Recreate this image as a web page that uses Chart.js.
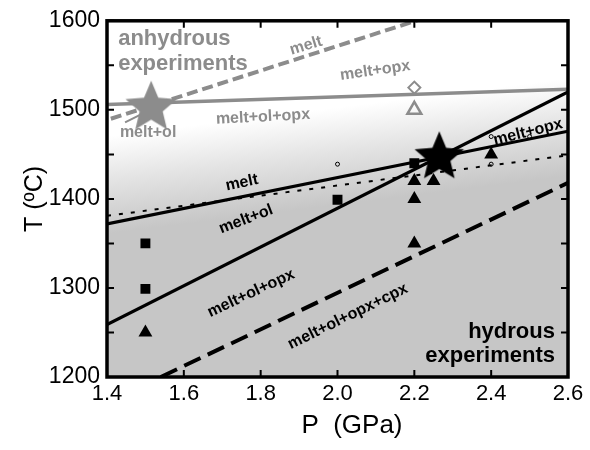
<!DOCTYPE html>
<html>
<head>
<meta charset="utf-8">
<script src="https://cdn.jsdelivr.net/npm/chart.js@4.4.1/dist/chart.umd.min.js"></script>
<style>
  html, body { margin: 0; background: #fff; }
  #wrap { width: 590px; height: 450px; }
</style>
</head>
<body>
<div id="wrap"><canvas id="phase"></canvas></div>
<script>
// P (GPa) and T (°C)
const hydMeltP = [1.4, 2.6],   hydMeltT = [1372, 1476];   // melt / melt+ol
const hydOlP   = [1.4, 2.6],   hydOlT   = [1259, 1520];   // melt+ol / melt+ol+opx
const hydCpxP  = [1.54, 2.6],  hydCpxT  = [1200, 1418];   // cpx in (dashed)
const dotP     = [1.4, 2.6],   dotT     = [1381, 1449];   // dotted
const anhOpxP  = [1.4, 2.6],   anhOpxT  = [1506, 1523];
const anhMeltP = [1.41, 2.24], anhMeltT = [1490, 1605];
const anhOlP   = [1.447, 1.494], anhOlT = [1486, 1496];

const squareP = [1.5, 1.5, 2.0, 2.2],  squareT = [1350, 1299, 1399, 1440];
const triP    = [1.5, 2.2, 2.25, 2.2, 2.2, 2.4], triT = [1250, 1420, 1420, 1400, 1350, 1450];
const circP   = [2.0, 2.4, 2.4, 2.5],  circT   = [1439, 1439, 1470, 1470];
const anhDiaP = [2.2], anhDiaT = [1525];
const anhTriP = [2.2], anhTriT = [1500];
const hydStarP = [2.265], hydStarT = [1449];
const anhStarP = [1.515], anhStarT = [1505];

// text: [label, P, T, angle(deg), colour, size, align]
const notes = [
  ['anhydrous',        1.429, 1580,   0, 'gray',  22, 'left'],
  ['experiments',      1.429, 1552,   0, 'gray',  22, 'left'],
  ['melt',             1.918, 1572, -17, 'gray',  16, 'center'],
  ['melt+opx',         2.098, 1544,  -8, 'gray',  16, 'center'],
  ['melt+ol+opx',      1.806, 1492,  -3, 'gray',  16, 'center'],
  ['melt+ol',          1.507, 1475,   0, 'gray',  16, 'center'],
  ['melt',             1.751, 1418, -12, 'black', 16, 'center'],
  ['melt+ol',          1.762, 1377, -21, 'black', 16, 'center'],
  ['melt+ol+opx',      1.775, 1294, -25, 'black', 16, 'center'],
  ['melt+ol+opx+cpx',  2.027, 1268, -26, 'black', 16, 'center'],
  ['melt+opx',         2.496, 1475, -14, 'black', 16, 'center'],
  ['hydrous',          2.566, 1251,   0, 'black', 22, 'right'],
  ['experiments',      2.566, 1224,   0, 'black', 22, 'right'],
];

const GRAY = '#8c8c8c';
const FONT = '"Liberation Sans", Arial, sans-serif';
const pts = (xs, ys) => xs.map((x, i) => ({ x, y: ys[i] }));

function starImg(r, color) {
  const c = document.createElement('canvas');
  c.width = c.height = Math.ceil(2 * r + 2);
  const g = c.getContext('2d');
  g.fillStyle = color;
  g.beginPath();
  for (let i = 0; i < 10; i++) {
    const rad = i % 2 ? r * 0.45 : r;
    const a = -Math.PI / 2 + i * Math.PI / 5;
    const px = c.width / 2 + rad * Math.cos(a), py = c.height / 2 + rad * Math.sin(a) + r * 0.08;
    i ? g.lineTo(px, py) : g.moveTo(px, py);
  }
  g.closePath();
  g.fill();
  return c;
}

const line = (xs, ys, color, width, dash) => ({
  type: 'line', data: pts(xs, ys), borderColor: color, borderWidth: width,
  borderDash: dash || [], pointRadius: 0, fill: false,
});
const marks = (xs, ys, style, r, fill, stroke, bw) => ({
  type: 'scatter', data: pts(xs, ys), pointStyle: style, pointRadius: r,
  backgroundColor: fill, borderColor: stroke, borderWidth: bw,
});

const framePlugin = {
  id: 'frame',
  beforeDatasetsDraw(chart) {
    const { ctx, chartArea: a } = chart;
    // shading: white above, grey below, along a slightly tilted boundary
    const cx = a.left + a.width * 0.5, cy = a.top + a.height * 0.38;
    const g = ctx.createLinearGradient(cx - 6, cy - 48, cx + 6, cy + 48);
    g.addColorStop(0, '#ffffff');
    g.addColorStop(0.45, '#e4e4e4');
    g.addColorStop(1, '#c6c6c6');
    ctx.save();
    ctx.fillStyle = g;
    ctx.fillRect(a.left, a.top, a.width, a.height);
    ctx.restore();
  },
  afterDatasetsDraw(chart) {
    const { ctx, chartArea: a, scales: { x, y } } = chart;
    ctx.save();
    notes.forEach(([t, p, T, ang, col, size, align]) => {
      ctx.save();
      ctx.translate(x.getPixelForValue(p), y.getPixelForValue(T));
      ctx.rotate(ang * Math.PI / 180);
      ctx.font = `bold ${size}px ${FONT}`;
      ctx.fillStyle = col === 'gray' ? GRAY : '#000';
      ctx.textAlign = align;
      ctx.textBaseline = 'middle';
      ctx.fillText(t, 0, 0);
      ctx.restore();
    });
    // inward ticks on all four sides
    ctx.strokeStyle = '#000';
    ctx.lineWidth = 2;
    ctx.beginPath();
    x.ticks.forEach(t => {
      const px = x.getPixelForValue(t.value);
      ctx.moveTo(px, a.bottom); ctx.lineTo(px, a.bottom - 7);
      ctx.moveTo(px, a.top); ctx.lineTo(px, a.top + 7);
    });
    y.ticks.forEach(t => {
      const py = y.getPixelForValue(t.value);
      ctx.moveTo(a.left, py); ctx.lineTo(a.left + 7, py);
      ctx.moveTo(a.right, py); ctx.lineTo(a.right - 7, py);
    });
    ctx.stroke();
    ctx.lineWidth = 3.5;
    ctx.strokeRect(a.left, a.top, a.width, a.height);
    ctx.restore();
  }
};

const datasets = [
  marks(hydStarP, hydStarT, starImg(26, '#000'), 10, '#000', '#000', 0),
  marks(anhStarP, anhStarT, starImg(27, GRAY), 10, GRAY, GRAY, 0),
  marks(squareP, squareT, 'rect', 7, '#000', '#000', 0),
  marks(triP, triT, 'triangle', 8, '#000', '#000', 0),
  marks(circP, circT, 'circle', 2, 'rgba(0,0,0,0)', '#000', 1),
  marks(anhDiaP, anhDiaT, 'rectRot', 6, '#fff', GRAY, 2),
  marks(anhTriP, anhTriT, 'triangle', 8, 'rgba(0,0,0,0)', GRAY, 2.5),
  line(anhOlP, anhOlT, GRAY, 2),
  line(anhOpxP, anhOpxT, GRAY, 3.5),
  line(anhMeltP, anhMeltT, GRAY, 4, [11, 5]),
  line(dotP, dotT, '#000', 2, [4, 8]),
  line(hydMeltP, hydMeltT, '#000', 3.2),
  line(hydOlP, hydOlT, '#000', 3.2),
  line(hydCpxP, hydCpxT, '#000', 4, [18, 8]),
].map((d, i) => Object.assign(d, { order: d.type === 'line' ? 20 : i + 1 }));

new Chart(document.getElementById('phase'), {
  type: 'scatter',
  data: { datasets },
  options: {
    responsive: true, maintainAspectRatio: false, animation: false,
    layout: { padding: { top: 15, right: 22, left: 0, bottom: 0 } },
    plugins: { legend: { display: false }, tooltip: { enabled: false } },
    scales: {
      x: {
        type: 'linear', min: 1.4, max: 2.6,
        ticks: { stepSize: 0.2, padding: 4, color: '#000', callback: v => v.toFixed(1),
                 font: { family: FONT, size: 22 } },
        grid: { display: false, drawTicks: false },
        border: { display: false },
        title: { display: true, text: '    P  (GPa)', color: '#000', padding: { top: 0, bottom: 9 },
                 font: { family: FONT, size: 26 } },
        afterFit: s => { s.height = 73; }
      },
      y: {
        type: 'linear', min: 1200, max: 1600,
        ticks: { stepSize: 50, padding: 7, color: '#000', callback: v => v % 100 === 0 ? v : '',
                 font: { family: FONT, size: 23 } },
        grid: { display: false, drawTicks: false },
        border: { display: false },
        title: { display: true, text: 'T (ºC)', color: '#000', padding: { top: 20, bottom: 0 },
                 font: { family: FONT, size: 25 } },
        afterFit: s => { s.width = 107; }
      }
    }
  },
  plugins: [framePlugin]
});
</script>
</body>
</html>
